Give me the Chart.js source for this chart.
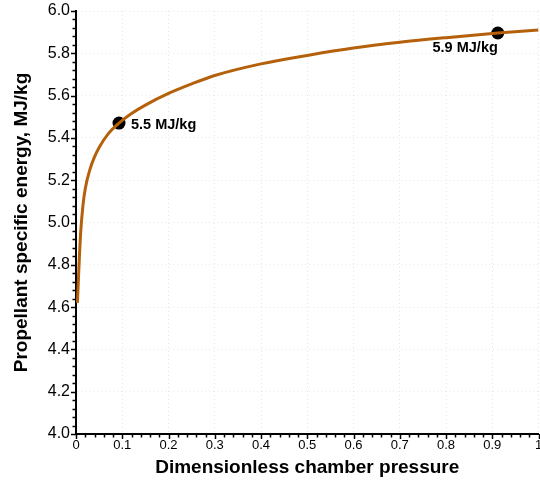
<!DOCTYPE html>
<html>
<head>
<meta charset="utf-8">
<script src="https://cdn.jsdelivr.net/npm/chart.js@4"></script>
<style>
  html, body { margin: 0; padding: 0; background: #fff; }
  canvas { display: block; }
</style>
</head>
<body>
<canvas id="chart" width="540" height="480"></canvas>
<script>
// Propellant specific energy against dimensionless chamber pressure
const pressure = [0.003, 0.005, 0.007, 0.01, 0.015, 0.02, 0.03, 0.04, 0.05, 0.07, 0.093,
                  0.12, 0.15, 0.2, 0.25, 0.3, 0.4, 0.5, 0.6, 0.7, 0.8, 0.912, 1.0];
const energy = [4.62, 4.72, 4.82, 4.95, 5.08, 5.16, 5.25, 5.31, 5.355, 5.42, 5.47,
                5.515, 5.555, 5.61, 5.655, 5.695, 5.75, 5.79, 5.825, 5.852, 5.874, 5.896, 5.91];

// highlighted operating points
const markPressure = [0.093, 0.912];
const markEnergy = [5.47, 5.896];

// axis tick values and their labels
const xTickValues = [0, 0.1, 0.2, 0.3, 0.4, 0.5, 0.6, 0.7, 0.8, 0.9, 1];
const xTickLabels = ['0', '0.1', '0.2', '0.3', '0.4', '0.5', '0.6', '0.7', '0.8', '0.9', '1'];
const yTickValues = [4.0, 4.2, 4.4, 4.6, 4.8, 5.0, 5.2, 5.4, 5.6, 5.8, 6.0];
const yTickLabels = ['4.0', '4.2', '4.4', '4.6', '4.8', '5.0', '5.2', '5.4', '5.6', '5.8', '6.0'];

const FONT = '"Liberation Sans", Arial, Helvetica, sans-serif';

/* Outward major/minor tick marks along the left and bottom axes */
const axisTicks = {
    id: 'axisTicks',
    afterDraw(chart) {
        const { ctx, chartArea, scales: { x, y } } = chart;
        ctx.save();
        ctx.strokeStyle = '#000';
        ctx.lineWidth = 1.5;
        ctx.beginPath();
        // x: minor every 0.02, major every 0.1
        for (let i = 0; i <= 50; i++) {
            const px = Math.round(x.getPixelForValue(i * 0.02)) + 0.5;
            const len = i % 5 === 0 ? 5 : 3.5;
            ctx.moveTo(px, chartArea.bottom);
            ctx.lineTo(px, chartArea.bottom + len);
        }
        // y: minor every 0.04, major every 0.2
        for (let i = 0; i <= 50; i++) {
            const py = Math.round(y.getPixelForValue(4 + i * 0.04)) + 0.5;
            const len = i % 5 === 0 ? 5 : 3.5;
            ctx.moveTo(chartArea.left, py);
            ctx.lineTo(chartArea.left - len, py);
        }
        ctx.stroke();
        ctx.restore();
    }
};

/* Value labels next to the highlighted points */
const pointLabels = {
    id: 'pointLabels',
    afterDatasetsDraw(chart) {
        const { ctx } = chart;
        const meta = chart.getDatasetMeta(1);
        ctx.save();
        ctx.fillStyle = '#000';
        ctx.font = 'bold 14.5px ' + FONT;
        ctx.textBaseline = 'middle';
        meta.data.forEach((pt, i) => {
            const text = markEnergy[i].toFixed(1) + ' MJ/kg';
            if (i === 0) {
                ctx.textAlign = 'left';
                ctx.fillText(text, pt.x + 12, pt.y + 2);
            } else {
                ctx.textAlign = 'right';
                ctx.fillText(text, pt.x, pt.y + 15);
            }
        });
        ctx.restore();
    }
};

const gridStyle = { color: 'rgba(0,0,0,0.09)', lineWidth: 1, drawTicks: false };
const borderStyle = { display: true, color: '#000', width: 2, dash: [1, 3] };

new Chart(document.getElementById('chart'), {
    type: 'scatter',
    data: {
        datasets: [
            {
                label: 'Specific energy',
                data: pressure.map((p, i) => ({ x: p, y: energy[i] })),
                showLine: true,
                borderColor: '#b5600b',
                borderWidth: 3,
                pointRadius: 0,
                cubicInterpolationMode: 'monotone'
            },
            {
                label: 'Operating points',
                data: markPressure.map((p, i) => ({ x: p, y: markEnergy[i] })),
                showLine: false,
                pointRadius: 6.5,
                pointBackgroundColor: '#000',
                pointBorderColor: '#000',
                pointBorderWidth: 0
            }
        ]
    },
    options: {
        responsive: false,
        animation: false,
        layout: { autoPadding: false, padding: { top: 11, right: 1.5, bottom: 0, left: 0 } },
        plugins: {
            legend: { display: false },
            tooltip: { enabled: false }
        },
        scales: {
            x: {
                type: 'linear',
                min: 0,
                max: 1,
                grid: gridStyle,
                border: borderStyle,
                afterBuildTicks: scale => { scale.ticks = xTickValues.map(v => ({ value: v })); },
                afterFit: scale => {
                    scale.height = 46;
                    scale.paddingLeft = 0;
                    scale.paddingRight = 0;
                },
                ticks: {
                    padding: 4,
                    maxRotation: 0,
                    autoSkip: false,
                    color: '#000',
                    font: { family: FONT, size: 13 },
                    callback: (v, i) => xTickLabels[i]
                },
                title: {
                    display: true,
                    text: 'Dimensionless chamber pressure',
                    color: '#000',
                    font: { family: FONT, size: 19, weight: 'bold' },
                    padding: { top: 0, bottom: 0.5 }
                }
            },
            y: {
                type: 'linear',
                min: 4,
                max: 6,
                grid: gridStyle,
                border: borderStyle,
                afterBuildTicks: scale => { scale.ticks = yTickValues.map(v => ({ value: v })); },
                afterFit: scale => {
                    scale.width = 76;
                    scale.paddingTop = 0;
                    scale.paddingBottom = 0;
                },
                ticks: {
                    padding: 6,
                    autoSkip: false,
                    color: '#000',
                    font: { family: FONT, size: 16 },
                    callback: (v, i) => yTickLabels[i]
                },
                title: {
                    display: true,
                    text: 'Propellant specific energy, MJ/kg',
                    color: '#000',
                    font: { family: FONT, size: 19, weight: 'bold' },
                    padding: { top: 10, bottom: 0 }
                }
            }
        }
    },
    plugins: [axisTicks, pointLabels]
});
</script>
</body>
</html>
